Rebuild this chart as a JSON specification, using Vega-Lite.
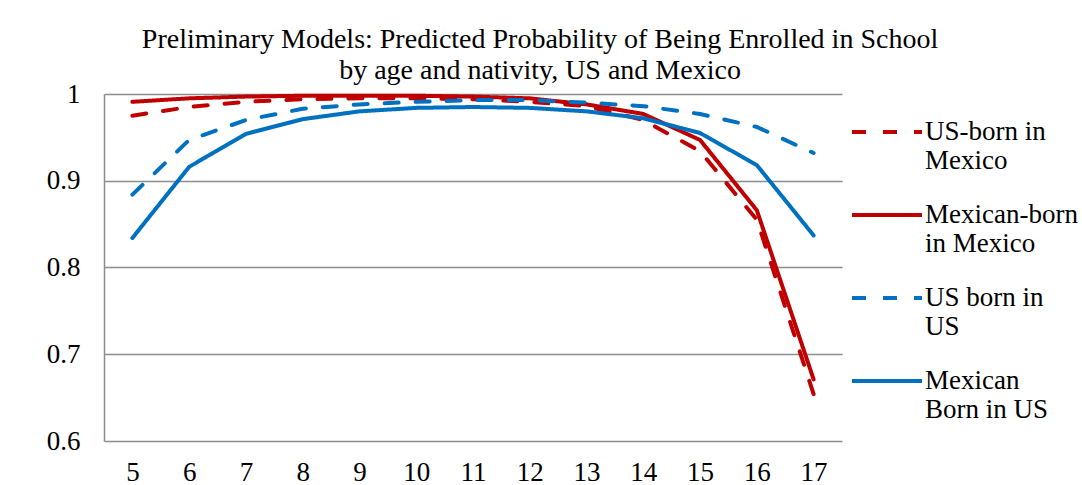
{
  "$schema": "https://vega.github.io/schema/vega-lite/v6.json",
  "autosize": {"type": "none"},
  "padding": {"left": 104, "top": 94, "right": 240, "bottom": 44},
  "width": 738,
  "height": 347,
  "background": "white",
  "title": {
    "text": ["Preliminary Models: Predicted Probability of Being Enrolled in School", "by age and nativity, US and Mexico"],
    "font": "Liberation Serif",
    "fontSize": 28,
    "fontWeight": "normal",
    "color": "#000000",
    "lineHeight": 31,
    "anchor": "middle",
    "dx": 67,
    "dy": 13,
    "offset": 8
  },
  "data": {
    "values": [
      {"age": 5, "series": "US-born in Mexico", "value": 0.975},
      {"age": 6, "series": "US-born in Mexico", "value": 0.985},
      {"age": 7, "series": "US-born in Mexico", "value": 0.991},
      {"age": 8, "series": "US-born in Mexico", "value": 0.994},
      {"age": 9, "series": "US-born in Mexico", "value": 0.995},
      {"age": 10, "series": "US-born in Mexico", "value": 0.995},
      {"age": 11, "series": "US-born in Mexico", "value": 0.994},
      {"age": 12, "series": "US-born in Mexico", "value": 0.991},
      {"age": 13, "series": "US-born in Mexico", "value": 0.986},
      {"age": 14, "series": "US-born in Mexico", "value": 0.970},
      {"age": 15, "series": "US-born in Mexico", "value": 0.934},
      {"age": 16, "series": "US-born in Mexico", "value": 0.855},
      {"age": 17, "series": "US-born in Mexico", "value": 0.654},
      {"age": 5, "series": "Mexican-born in Mexico", "value": 0.991},
      {"age": 6, "series": "Mexican-born in Mexico", "value": 0.995},
      {"age": 7, "series": "Mexican-born in Mexico", "value": 0.997},
      {"age": 8, "series": "Mexican-born in Mexico", "value": 0.998},
      {"age": 9, "series": "Mexican-born in Mexico", "value": 0.998},
      {"age": 10, "series": "Mexican-born in Mexico", "value": 0.998},
      {"age": 11, "series": "Mexican-born in Mexico", "value": 0.997},
      {"age": 12, "series": "Mexican-born in Mexico", "value": 0.995},
      {"age": 13, "series": "Mexican-born in Mexico", "value": 0.988},
      {"age": 14, "series": "Mexican-born in Mexico", "value": 0.977},
      {"age": 15, "series": "Mexican-born in Mexico", "value": 0.947},
      {"age": 16, "series": "Mexican-born in Mexico", "value": 0.866},
      {"age": 17, "series": "Mexican-born in Mexico", "value": 0.671},
      {"age": 5, "series": "US born in US", "value": 0.884},
      {"age": 6, "series": "US born in US", "value": 0.947},
      {"age": 7, "series": "US born in US", "value": 0.970},
      {"age": 8, "series": "US born in US", "value": 0.983},
      {"age": 9, "series": "US born in US", "value": 0.988},
      {"age": 10, "series": "US born in US", "value": 0.991},
      {"age": 11, "series": "US born in US", "value": 0.993},
      {"age": 12, "series": "US born in US", "value": 0.993},
      {"age": 13, "series": "US born in US", "value": 0.990},
      {"age": 14, "series": "US born in US", "value": 0.986},
      {"age": 15, "series": "US born in US", "value": 0.977},
      {"age": 16, "series": "US born in US", "value": 0.962},
      {"age": 17, "series": "US born in US", "value": 0.932},
      {"age": 5, "series": "Mexican Born in US", "value": 0.834},
      {"age": 6, "series": "Mexican Born in US", "value": 0.916},
      {"age": 7, "series": "Mexican Born in US", "value": 0.954},
      {"age": 8, "series": "Mexican Born in US", "value": 0.971},
      {"age": 9, "series": "Mexican Born in US", "value": 0.980},
      {"age": 10, "series": "Mexican Born in US", "value": 0.984},
      {"age": 11, "series": "Mexican Born in US", "value": 0.985},
      {"age": 12, "series": "Mexican Born in US", "value": 0.984},
      {"age": 13, "series": "Mexican Born in US", "value": 0.980},
      {"age": 14, "series": "Mexican Born in US", "value": 0.972},
      {"age": 15, "series": "Mexican Born in US", "value": 0.955},
      {"age": 16, "series": "Mexican Born in US", "value": 0.918},
      {"age": 17, "series": "Mexican Born in US", "value": 0.837}
    ]
  },
  "mark": {"type": "line", "strokeWidth": 4, "strokeCap": "round", "strokeJoin": "round"},
  "encoding": {
    "x": {
      "field": "age",
      "type": "ordinal",
      "scale": {"type": "point", "padding": 0.5},
      "axis": {
        "title": null,
        "labelAngle": 0,
        "labelFont": "Liberation Serif",
        "labelFontSize": 27,
        "labelColor": "#000000",
        "labelPadding": 18,
        "ticks": false,
        "domain": false,
        "grid": false
      }
    },
    "y": {
      "field": "value",
      "type": "quantitative",
      "scale": {"domain": [0.6, 1], "zero": false, "nice": false},
      "axis": {
        "title": null,
        "values": [0.6, 0.7, 0.8, 0.9, 1],
        "format": "~g",
        "labelFont": "Liberation Serif",
        "labelFontSize": 27,
        "labelColor": "#000000",
        "labelPadding": 24,
        "ticks": false,
        "domain": true,
        "domainColor": "#8c8c8c",
        "domainWidth": 1.5,
        "grid": true,
        "gridColor": "#8c8c8c",
        "gridWidth": 1.5
      }
    },
    "color": {
      "field": "series",
      "type": "nominal",
      "scale": {
        "domain": ["US-born in Mexico", "Mexican-born in Mexico", "US born in US", "Mexican Born in US"],
        "range": ["#C00000", "#C00000", "#0070C0", "#0070C0"]
      },
      "legend": {
        "title": null,
        "orient": "none",
        "legendX": 746,
        "legendY": -3,
        "symbolType": "stroke",
        "symbolSize": 4900,
        "symbolStrokeWidth": 4,
        "labelFont": "Liberation Serif",
        "labelFontSize": 27,
        "labelColor": "#000000",
        "labelLimit": 300,
        "labelOffset": 1,
        "rowPadding": 0,
        "clipHeight": 82,
        "labelExpr": "datum.label == 'US-born in Mexico' ? ['US-born in', 'Mexico'] : datum.label == 'Mexican-born in Mexico' ? ['Mexican-born', 'in Mexico'] : datum.label == 'US born in US' ? ['US born in', 'US'] : ['Mexican', 'Born in US']"
      }
    },
    "strokeDash": {
      "field": "series",
      "type": "nominal",
      "scale": {
        "domain": ["US-born in Mexico", "Mexican-born in Mexico", "US born in US", "Mexican Born in US"],
        "range": [[14, 17], [1, 0], [14, 17], [1, 0]]
      },
      "legend": null
    }
  },
  "config": {"view": {"stroke": null}}
}
